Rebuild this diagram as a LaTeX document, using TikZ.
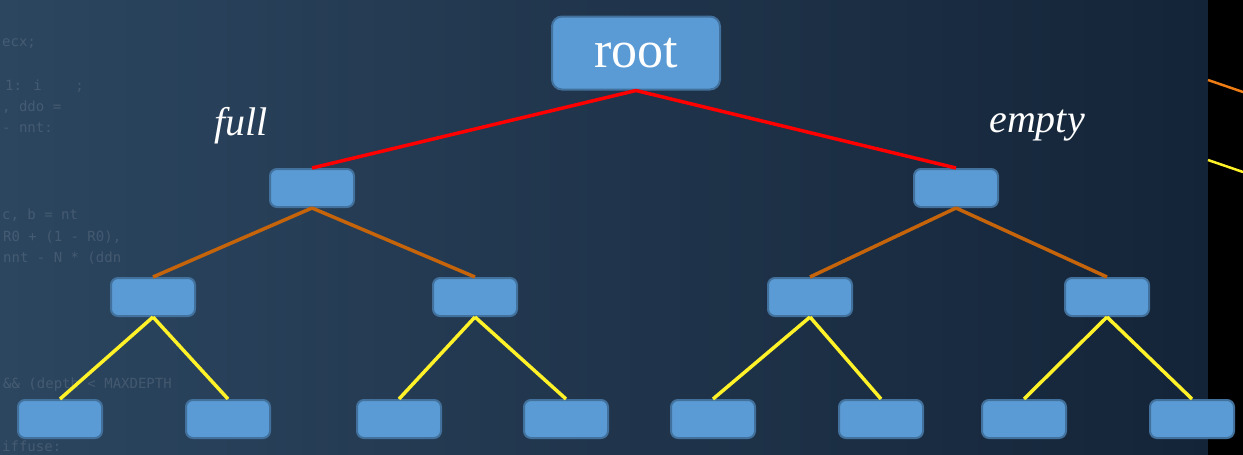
\documentclass[tikz,border=0pt]{standalone}
\usepackage{fontspec}
\setmainfont{Liberation Serif}
\newfontfamily\codefont{DejaVu Sans Mono}
\begin{document}
\begin{tikzpicture}[x=1pt,y=-1pt,
  box/.style={draw=boxline,fill=boxfill,line width=2pt,rounded corners=7pt,minimum width=84pt,minimum height=38pt,inner sep=0pt},
  redline/.style={draw=edgered,line width=3.5pt},
  orangeline/.style={draw=edgeorange,line width=3.5pt},
  yellowline/.style={draw=edgeyellow,line width=3.5pt},
  code/.style={anchor=west,text=white,opacity=0.12,font=\codefont\fontsize{14}{16}\selectfont,inner sep=0pt},
  lbl/.style={text=white,font=\itshape\fontsize{40}{46}\selectfont,inner sep=0pt}]
\definecolor{boxfill}{RGB}{91,155,213}
\definecolor{boxline}{RGB}{65,113,156}
\definecolor{edgered}{RGB}{255,0,0}
\definecolor{edgeorange}{RGB}{197,100,10}
\definecolor{edgeyellow}{RGB}{255,242,40}
\definecolor{bgleft}{RGB}{44,70,96}
\definecolor{bgright}{RGB}{20,36,56}
\definecolor{sideorange}{RGB}{237,125,20}
\useasboundingbox (0,0) rectangle (1243,455);
\shade[left color=bgleft,right color=bgright] (0,0) rectangle (1208,455);
\fill[black] (1208,0) rectangle (1243,455);
% faint background code
\node[code] (c1) at (2,44) {ecx;};
\node[code] (c2) at (5,86) {1: i~~~~;};
\node[code] (c3) at (2,107) {, ddo = ~~~~~~~};
\node[code] (c4) at (2,128) {- nnt: ~~~~};
\node[code] (c5) at (2,215) {c, b = nt ~~~~~};
\node[code] (c6) at (3,237) {R0 + (1 - R0),};
\node[code] (c7) at (3,258) {nnt - N * (ddn};
\node[code] (c8) at (3,385) {\&\& (depth < MAXDEPTH};
\node[code] (c9) at (2,446) {iffuse:};
% side lines
\coordinate (s1) at (1208,80);
\coordinate (s2) at (1243,92);
\coordinate (s3) at (1208,160);
\coordinate (s4) at (1243,172);
\draw[sideorange,line width=2.5pt] (s1) -- (s2);
\draw[edgeyellow,line width=2.5pt] (s3) -- (s4);
% nodes
\node[box,minimum width=168pt,minimum height=73pt,rounded corners=10pt,text=white,font=\fontsize{52}{58}\selectfont] (root) at (636,53) {root};
\node[box] (a) at (312,188) {};
\node[box] (b) at (956,188) {};
\node[box] (a1) at (153,297) {};
\node[box] (a2) at (475,297) {};
\node[box] (b1) at (810,297) {};
\node[box] (b2) at (1107,297) {};
\node[box] (a11) at (60,419) {};
\node[box] (a12) at (228,419) {};
\node[box] (a21) at (399,419) {};
\node[box] (a22) at (566,419) {};
\node[box] (b11) at (713,419) {};
\node[box] (b12) at (881,419) {};
\node[box] (b21) at (1024,419) {};
\node[box] (b22) at (1192,419) {};
% labels
\node[lbl] (full) at (241,126) {full};
\node[lbl] (empty) at (1037,126) {empty};
% edges
\draw[redline] (root.south) -- (a.north);
\draw[redline] (root.south) -- (b.north);
\draw[orangeline] (a.south) -- (a1.north);
\draw[orangeline] (a.south) -- (a2.north);
\draw[orangeline] (b.south) -- (b1.north);
\draw[orangeline] (b.south) -- (b2.north);
\draw[yellowline] (a1.south) -- (a11.north);
\draw[yellowline] (a1.south) -- (a12.north);
\draw[yellowline] (a2.south) -- (a21.north);
\draw[yellowline] (a2.south) -- (a22.north);
\draw[yellowline] (b1.south) -- (b11.north);
\draw[yellowline] (b1.south) -- (b12.north);
\draw[yellowline] (b2.south) -- (b21.north);
\draw[yellowline] (b2.south) -- (b22.north);
\end{tikzpicture}
\end{document}
